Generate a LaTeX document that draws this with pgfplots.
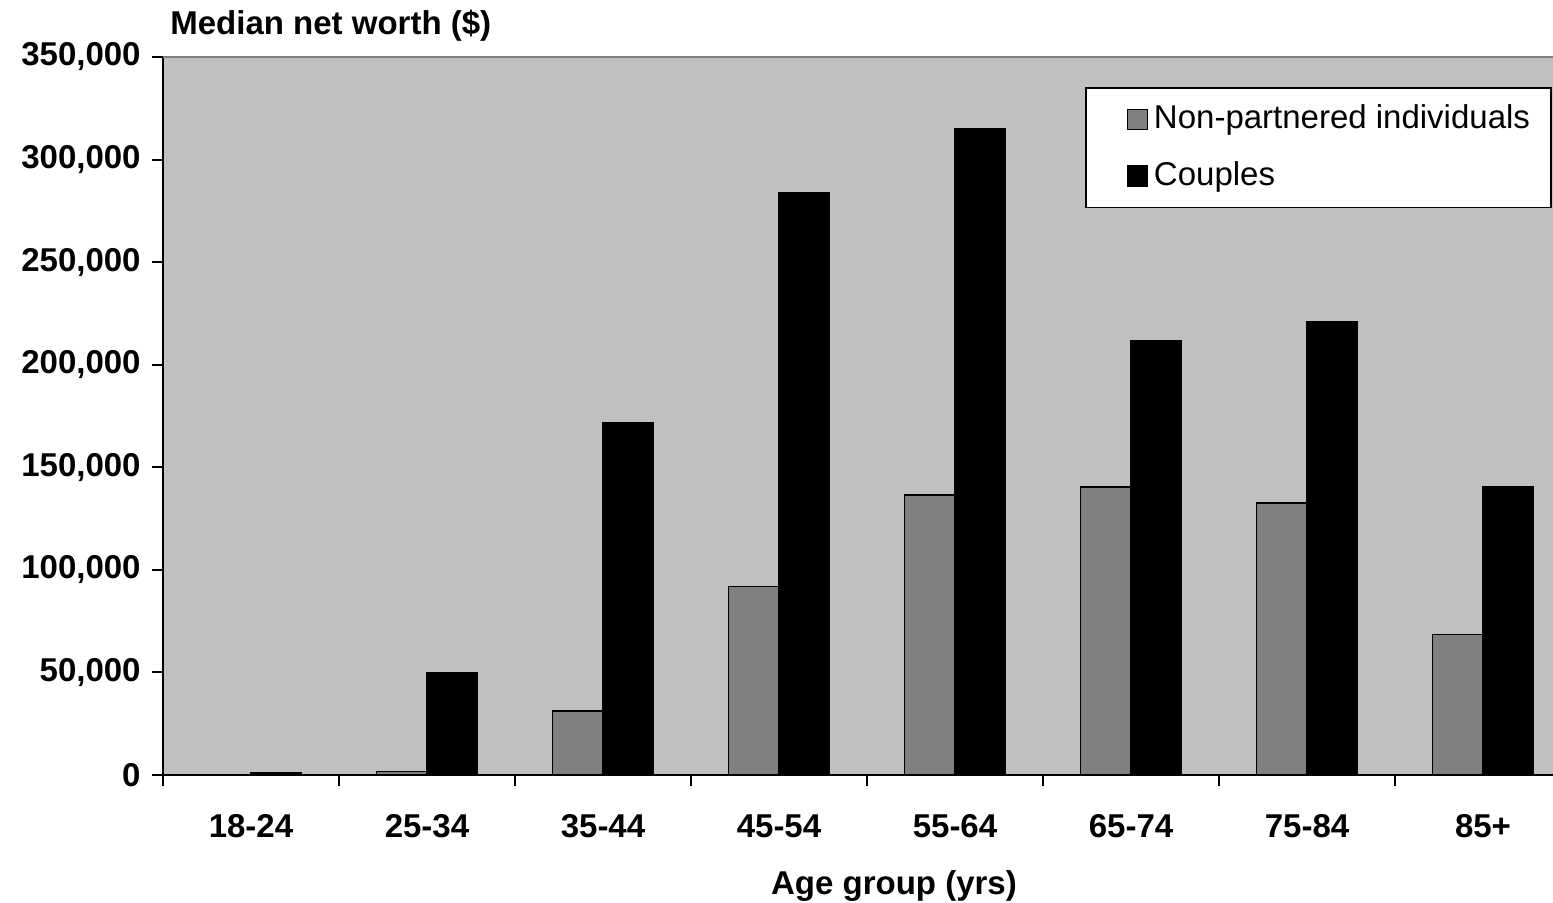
\documentclass[border=0pt]{standalone}
\usepackage{fontspec}
\setmainfont{Liberation Sans}
\usepackage{pgfplots}
\pgfplotsset{compat=1.18}
\definecolor{plotbg}{RGB}{192,192,192}
\definecolor{barind}{RGB}{128,128,128}

\begin{document}
\fontsize{16.5}{20}\selectfont
\begin{tikzpicture}
\path[use as bounding box] (0,0) rectangle (776.5pt,451.5pt);
\begin{axis}[
    at={(81.5pt,64pt)}, anchor=south west,
    scale only axis, width=695pt, height=359pt,
    ybar=0pt, bar width=25.25pt,
    xmin=-0.5, xmax=7.3977, ymin=0, ymax=350000,
    axis x line*=bottom, axis y line*=left,
    axis line style={line width=1pt, -},
    axis background/.style={fill=plotbg},
    tick align=outside, major tick length=5.5pt,
    tick style={black, line width=1pt},
    xtick={-0.5,0.5,...,6.5}, xticklabels={},
    extra x ticks={0,1,2,3,4,5,6,7},
    extra x tick labels={18-24,25-34,35-44,45-54,55-64,65-74,75-84,85+},
    extra x tick style={major tick length=0pt, tick label style={yshift=-14pt}},
    ytick={0,50000,...,350000},
    scaled y ticks=false,
    /pgf/number format/.cd, fixed, 1000 sep={,}, assume math mode=true,
    /pgfplots/.cd,
    tick label style={font=\bfseries},
    yticklabel style={xshift=0pt},
    every axis x label/.style={at={(rel axis cs:0.5259,0)}, anchor=center, yshift=-55.5pt, font=\bfseries},
    every axis y label/.style={at={(rel axis cs:0,1)}, anchor=base west, xshift=-2pt, yshift=11pt, font=\bfseries},
    xlabel={Age group (yrs)},
    ylabel={Median net worth (\$)},
    legend style={at={(rel axis cs:0.6633,0.9582)}, anchor=north west,
        draw=black, line width=0.8pt, fill=white, row sep=10pt,
        inner xsep=20.5pt, inner ysep=6.5pt},
    legend cell align=left,
    legend image code/.code={\draw[#1, draw=black, line width=0.6pt] (0pt,-5pt) rectangle (10pt,5pt);
        \path (11pt,0pt);},
]
\draw[barind, line width=0.8pt] (rel axis cs:0,1) -- (rel axis cs:1,1);
\addplot[fill=barind, draw=black, line width=0.6pt] coordinates {
    (0,0) (1,1800) (2,31200) (3,91700) (4,136500) (5,140400) (6,132600) (7,68300)};
\addlegendentry{\makebox[176pt][l]{Non-partnered individuals}}
\addplot[fill=black, draw=black, line width=0.6pt] coordinates {
    (0,1100) (1,49700) (2,171600) (3,283800) (4,315000) (5,211600) (6,220900) (7,140400)};
\addlegendentry{\makebox[176pt][l]{Couples}}
\end{axis}
\end{tikzpicture}
\end{document}
